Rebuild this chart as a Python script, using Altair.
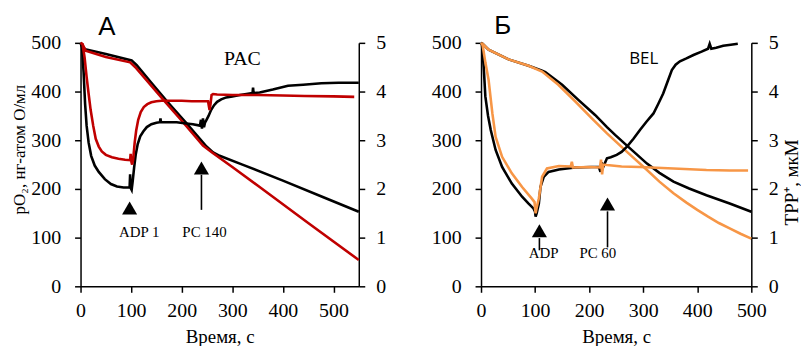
import altair as alt
import pandas as pd

# ---------------- Panel А (PAC) ----------------
# pO2, нг-атом O/мл (left axis)
tA_o2_black = [0, 3, 9, 50, 101, 111, 140, 170, 210, 249, 262, 275, 320, 400, 480, 550]
vA_o2_black = [500, 495, 487, 477, 464, 454, 418, 381, 334, 287, 275, 268, 250, 217, 183, 153]
tA_o2_red = [0, 4, 10, 50, 98, 110, 163, 200, 242, 260, 300, 354, 450, 550]
vA_o2_red = [500, 497, 484, 471, 460, 448, 384, 340, 289, 275, 245, 204, 130, 54]
# TPP+, мкМ (right axis)
tA_tpp_black = [0, 3, 6, 9, 12, 16, 21, 28, 36, 48, 60, 72, 85, 97, 98, 99, 101, 103, 106, 109,
                113, 118, 124, 131, 140, 150, 157, 158, 159, 175, 190, 205, 222, 236, 238, 240, 242, 244, 246, 249,
                253, 258, 264, 270, 278, 288, 300, 315, 328, 340, 341, 342, 354, 380, 410, 440, 476, 510, 550]
vA_tpp_black = [5.0, 4.9, 4.4, 3.75, 3.3, 2.95, 2.68, 2.48, 2.35, 2.2, 2.1, 2.05, 2.03, 2.03, 2.3, 2.02, 1.98, 2.15, 2.45, 2.7,
                2.92, 3.08, 3.18, 3.27, 3.33, 3.36, 3.37, 3.45, 3.37, 3.37, 3.37, 3.35, 3.33, 3.3, 3.42, 3.24, 3.45, 3.27, 3.36, 3.42,
                3.5, 3.62, 3.72, 3.79, 3.84, 3.88, 3.9, 3.93, 3.95, 3.97, 4.08, 3.97, 3.98, 4.04, 4.12, 4.14, 4.17, 4.18, 4.18]
tA_tpp_red = [0, 4, 8, 12, 16, 20, 25, 30, 36, 42, 50, 62, 75, 88, 98, 99, 100, 102, 104, 107,
              110, 114, 119, 125, 132, 140, 150, 160, 180, 200, 220, 240, 252, 255, 257, 259, 262, 270, 300, 350,
              400, 443, 500, 541]
vA_tpp_red = [5.0, 4.97, 4.7, 4.3, 3.95, 3.62, 3.3, 3.03, 2.87, 2.77, 2.7, 2.65, 2.62, 2.6, 2.59, 2.72, 2.58, 2.5, 2.6, 2.95,
              3.2, 3.42, 3.58, 3.68, 3.74, 3.78, 3.8, 3.81, 3.81, 3.81, 3.8, 3.8, 3.8, 3.62, 3.75, 3.93, 3.95, 3.94, 3.93, 3.93,
              3.92, 3.91, 3.9, 3.89]

# ---------------- Panel Б (BEL) ----------------
tB_o2_black = [0, 3, 14, 51, 88, 113, 119, 150, 180, 211, 233, 248, 270, 307, 330, 356, 385, 417, 460, 500]
vB_o2_black = [500, 498, 486, 466, 453, 443, 440, 414, 383, 352, 327, 311, 289, 252, 233, 215, 201, 187, 170, 153]
tB_o2_orange = [0, 2, 14, 51, 88, 113, 143, 174, 205, 233, 270, 307, 330, 356, 380, 400, 420, 440, 460, 480, 500]
vB_o2_orange = [500, 499, 486, 466, 453, 441, 414, 380, 345, 314, 276, 239, 215, 191, 172, 157, 143, 130, 119, 108, 98]
tB_tpp_black = [0, 2, 5, 8, 13, 18, 27, 39, 57, 76, 88, 97, 100, 101, 103, 107, 110, 116, 125, 144,
                174, 205, 218, 221, 223, 225, 228, 233, 240, 251, 260, 270, 282, 294, 306, 319, 328, 337, 345, 353,
                360, 368, 380, 393, 408, 420, 423, 426, 435, 448, 462, 475]
vB_tpp_black = [5.0, 4.95, 4.5, 3.9, 3.5, 3.21, 2.8, 2.45, 2.11, 1.84, 1.7, 1.6, 1.53, 1.43, 1.5, 1.7, 2.04, 2.25, 2.35, 2.4,
                2.44, 2.45, 2.45, 2.35, 2.55, 2.42, 2.5, 2.63, 2.65, 2.7, 2.76, 2.87, 3.03, 3.21, 3.38, 3.55, 3.75, 3.96, 4.2, 4.44,
                4.55, 4.62, 4.68, 4.75, 4.82, 4.88, 4.98, 4.88, 4.9, 4.94, 4.96, 4.98]
tB_tpp_orange = [0, 3, 8, 14, 21, 27, 39, 57, 76, 94, 99, 100, 101, 103, 107, 113, 122, 144, 166, 168,
                 170, 200, 220, 222, 224, 226, 233, 260, 294, 356, 417, 460, 494]
vB_tpp_orange = [5.0, 4.95, 4.6, 4.24, 3.55, 3.07, 2.66, 2.32, 2.04, 1.8, 1.73, 1.6, 1.5, 1.62, 1.81, 2.25, 2.42, 2.47, 2.46, 2.56,
                 2.44, 2.45, 2.44, 2.6, 2.3, 2.5, 2.49, 2.46, 2.45, 2.42, 2.39, 2.38, 2.38]

# ---------------- Annotations (data coordinates: t, pO2 scale) ----------------
A_small_labels = ["ADP 1", "PC 140"]
A_small_t = [116, 245]
A_small_v = [102, 102]
A_tri_t = [97, 239]
A_tri_v = [161, 243]
A_stem_t = [239]
A_stem_v1 = [229]
A_stem_v2 = [157]
A_name = ["PAC"]; A_name_t = [320]; A_name_v = [455]
A_letter = ["А"]; A_letter_t = [52]; A_letter_v = [533]

B_small_labels = ["ADP", "PC 60"]
B_small_t = [116, 216]
B_small_v = [58, 58]
B_tri_t = [108, 234]
B_tri_v = [114, 169]
B_stem_t = [108, 234]
B_stem_v1 = [99, 154]
B_stem_v2 = [74, 80]
B_name = ["BEL"]; B_name_t = [301]; B_name_v = [457]
B_letter = ["Б"]; B_letter_t = [40]; B_letter_v = [535]

X_TICKS = [0, 100, 200, 300, 400, 500]
O2_TICKS = [0, 100, 200, 300, 400, 500]
TPP_TICKS = [0, 1, 2, 3, 4, 5]

SERIF = "Liberation Serif"
SANS = "Open Sans"
LETTER_FONT = "Liberation Sans"
RED = "#C00000"
ORANGE = "#F79646"
LW = 2.6
LBL = 20


def df(t, v):
    return pd.DataFrame({"t": t, "v": v})


def make_panel(xmax, w, h, o2k, o2c, tppk, tppc, color, small, name, name_font, name_size,
               letter, tri, stems, left_title, right_title):
    common = dict(labelFont=SERIF, labelFontSize=LBL, titleFont=SERIF,
                  titleFontWeight="normal", labelColor="black", titleColor="black")
    x = alt.X("t:Q", scale=alt.Scale(domain=[0, xmax], nice=False, zero=False),
              axis=alt.Axis(values=X_TICKS, title="Время, с", labelFlush=False, titleFontSize=19,
                            labelPadding=8, titlePadding=8, **common))
    if left_title:
        yl_axis = alt.Axis(values=O2_TICKS, orient="left", title=left_title, titleFontSize=17,
                           titleY=107, labelPadding=14, titlePadding=2, **common)
    else:
        yl_axis = alt.Axis(values=O2_TICKS, orient="left", title=None, labelPadding=14, **common)
    yl = alt.Y("v:Q", scale=alt.Scale(domain=[0, 500], nice=False), axis=yl_axis)
    if right_title:
        yr_axis = alt.Axis(values=TPP_TICKS, orient="right", title=right_title, titleAngle=270,
                           titleBaseline="top", titleFontSize=19, titleY=140,
                           labelPadding=11, titlePadding=4, **common)
    else:
        yr_axis = alt.Axis(values=TPP_TICKS, orient="right", title=None, labelPadding=11, **common)
    yr = alt.Y("v:Q", scale=alt.Scale(domain=[0, 5], nice=False), axis=yr_axis)

    left_layers = [
        alt.Chart(o2k).mark_line(color="black", strokeWidth=LW).encode(x=x, y=yl),
        alt.Chart(o2c).mark_line(color=color, strokeWidth=LW).encode(x=x, y=yl),
        alt.Chart(small).mark_text(font=SERIF, fontSize=15, baseline="alphabetic", align="center",
                                   color="black").encode(x=x, y=yl, text="label:N"),
        alt.Chart(name).mark_text(font=name_font, fontSize=name_size, baseline="alphabetic", align="center",
                                  color="black").encode(x=x, y=yl, text="label:N"),
        alt.Chart(letter).mark_text(font=LETTER_FONT, fontSize=26, baseline="middle", align="center",
                                    color="black").encode(x=x, y=yl, text="label:N"),
        alt.Chart(tri).mark_point(shape="triangle-up", filled=True, size=230, color="black",
                                  opacity=1, strokeWidth=0).encode(x=x, y=yl),
        alt.Chart(stems).mark_rule(color="black", strokeWidth=1.6).encode(x=x, y=yl, y2="v2:Q"),
    ]
    right_layers = [
        alt.Chart(tppk).mark_line(color="black", strokeWidth=LW).encode(x=x, y=yr),
        alt.Chart(tppc).mark_line(color=color, strokeWidth=LW).encode(x=x, y=yr),
    ]
    return alt.layer(alt.layer(*left_layers), alt.layer(*right_layers)).resolve_scale(
        y="independent").properties(width=w, height=h)


panelA = make_panel(
    550, 280, 245,
    df(tA_o2_black, vA_o2_black), df(tA_o2_red, vA_o2_red),
    df(tA_tpp_black, vA_tpp_black), df(tA_tpp_red, vA_tpp_red), RED,
    pd.DataFrame({"t": A_small_t, "v": A_small_v, "label": A_small_labels}),
    pd.DataFrame({"t": A_name_t, "v": A_name_v, "label": A_name}), SERIF, 20,
    pd.DataFrame({"t": A_letter_t, "v": A_letter_v, "label": A_letter}),
    df(A_tri_t, A_tri_v),
    pd.DataFrame({"t": A_stem_t, "v": A_stem_v1, "v2": A_stem_v2}),
    "pO₂, нг-атом O/мл", None)

panelB = make_panel(
    500, 272, 245,
    df(tB_o2_black, vB_o2_black), df(tB_o2_orange, vB_o2_orange),
    df(tB_tpp_black, vB_tpp_black), df(tB_tpp_orange, vB_tpp_orange), ORANGE,
    pd.DataFrame({"t": B_small_t, "v": B_small_v, "label": B_small_labels}),
    pd.DataFrame({"t": B_name_t, "v": B_name_v, "label": B_name}), SANS, 17,
    pd.DataFrame({"t": B_letter_t, "v": B_letter_v, "label": B_letter}),
    df(B_tri_t, B_tri_v),
    pd.DataFrame({"t": B_stem_t, "v": B_stem_v1, "v2": B_stem_v2}),
    None, "TPP⁺, мкМ")

chart = alt.hconcat(panelA, panelB, spacing=123, bounds="flush").properties(
    padding={"left": 3, "top": 3, "right": 0, "bottom": 0}
).configure(font=SERIF).configure_view(stroke=None).configure_axis(
    labelFont=SERIF, titleFont=SERIF, labelFontSize=LBL,
    domainColor="black", domainWidth=1.5, tickColor="black", tickWidth=1.5, tickSize=6,
    grid=False
)

chart.save("out.html", embed_options={"renderer": "svg", "actions": False})
